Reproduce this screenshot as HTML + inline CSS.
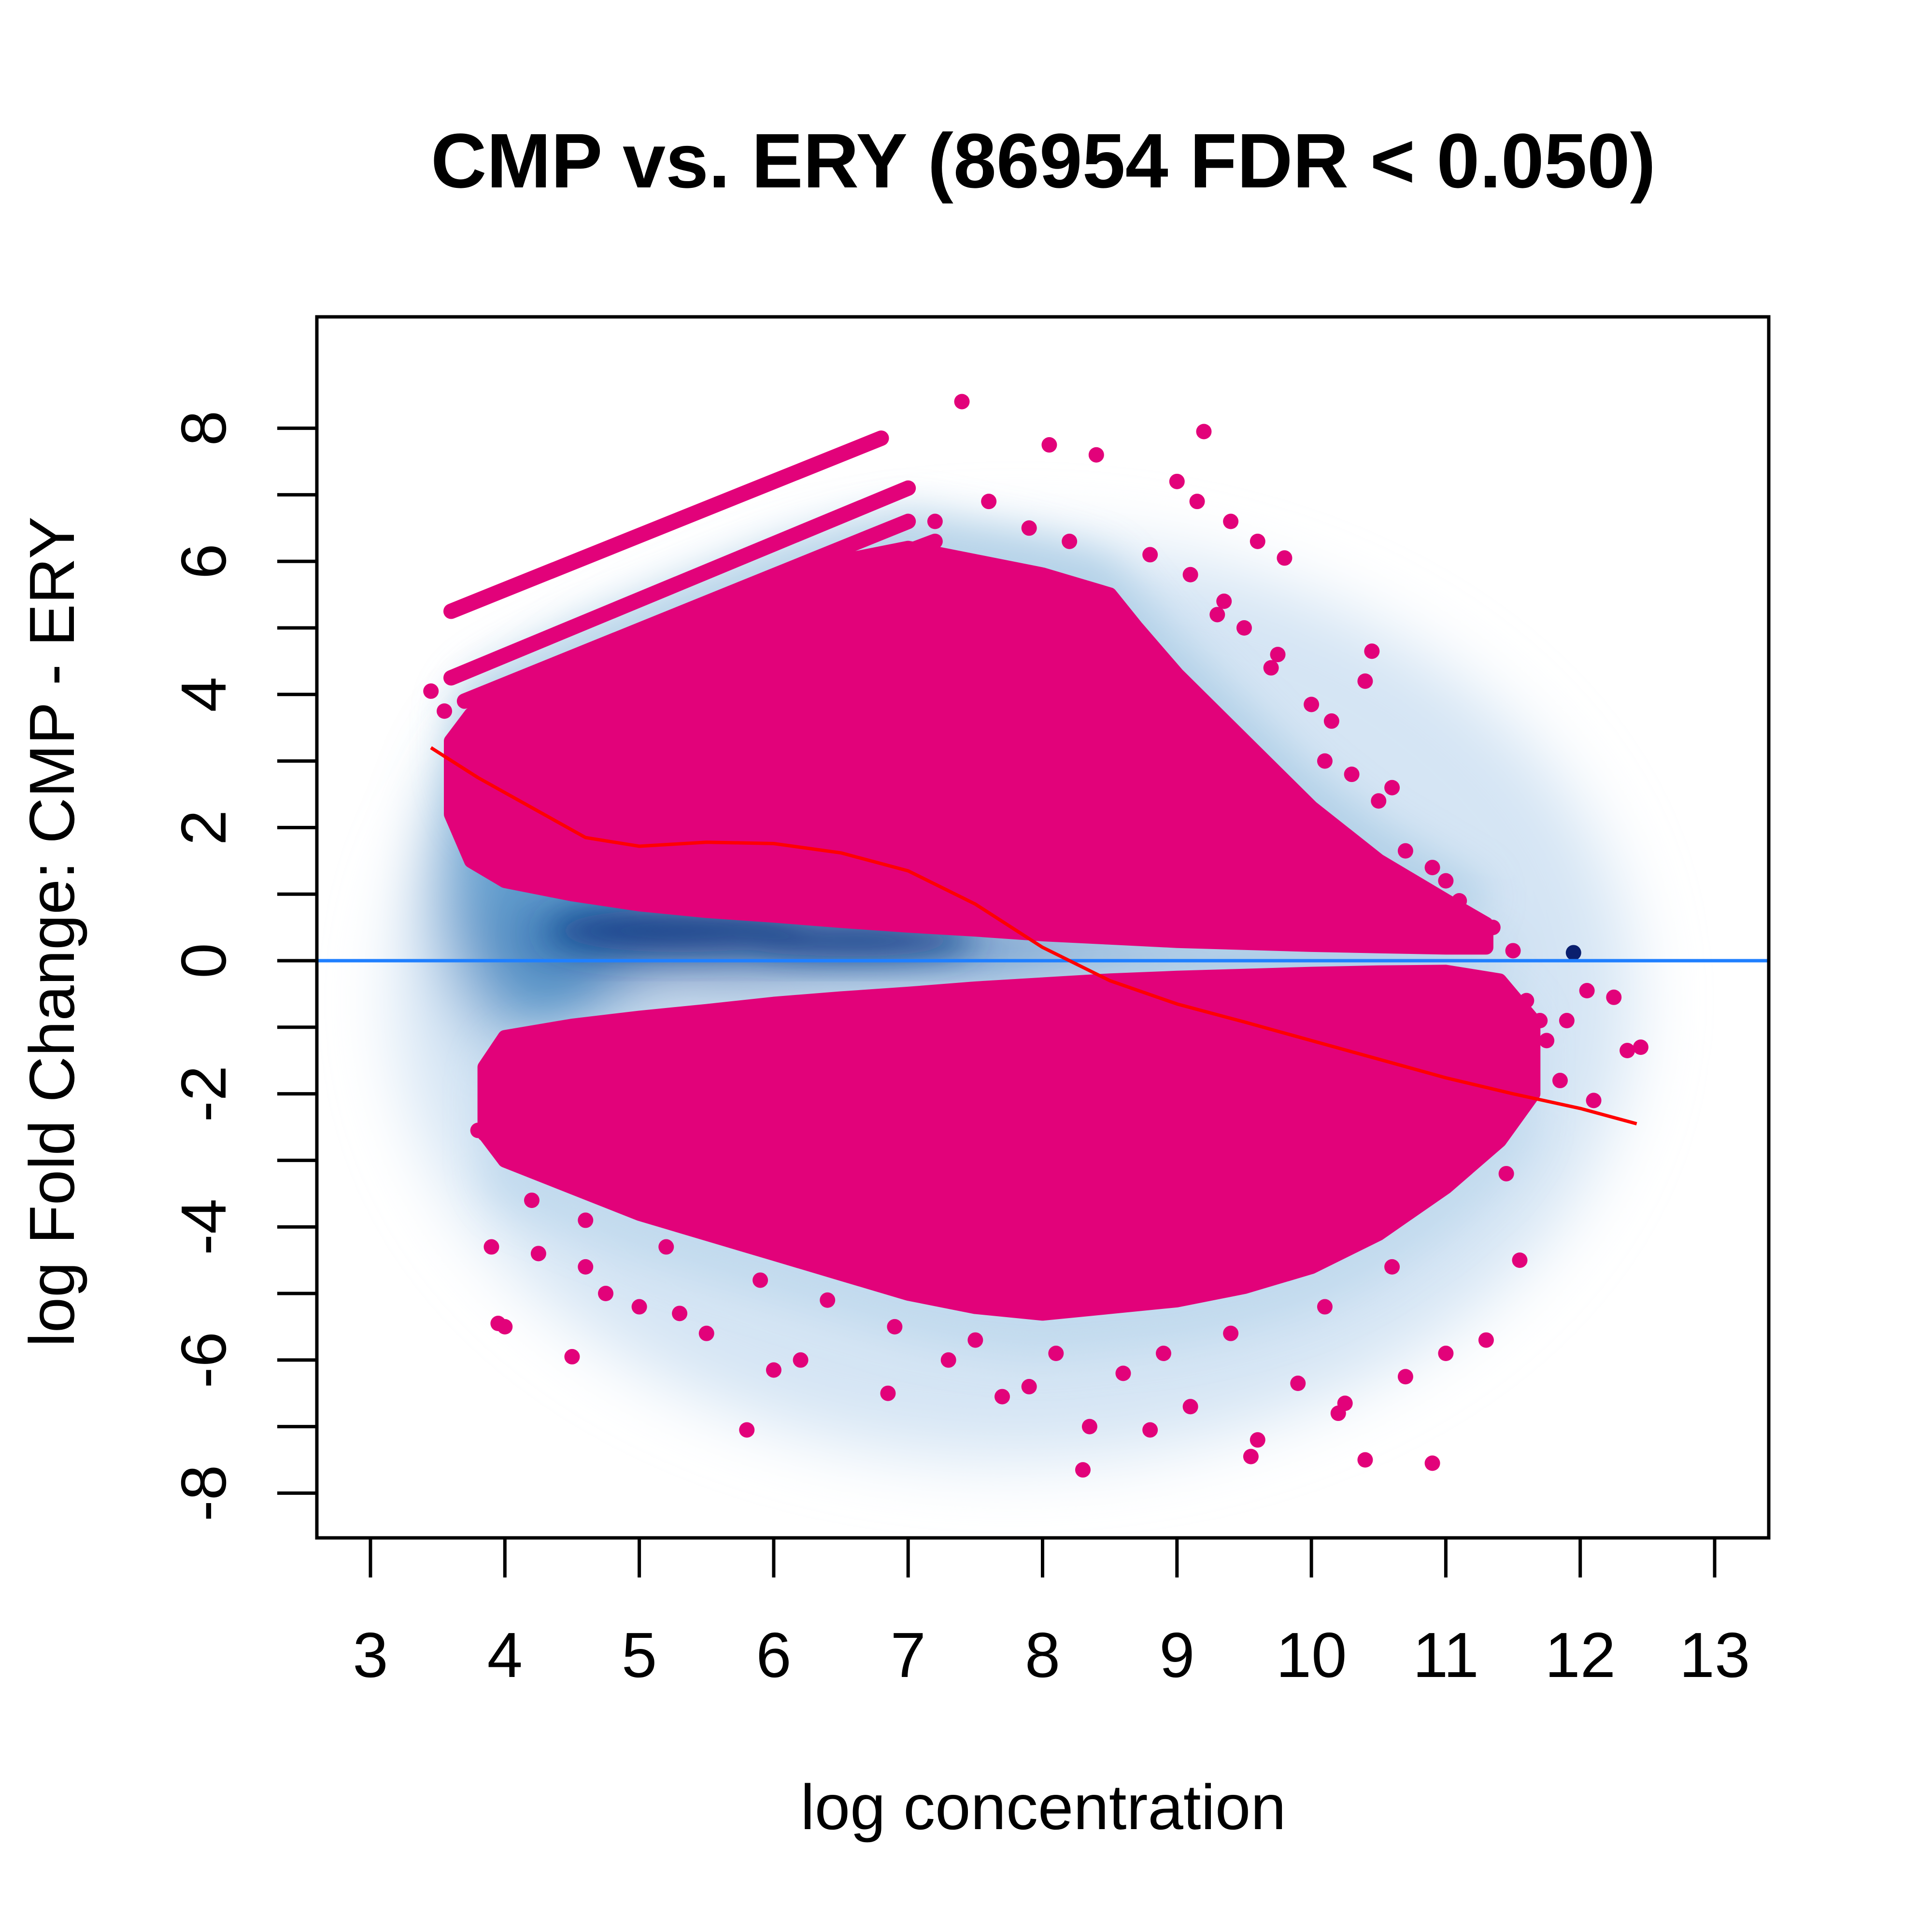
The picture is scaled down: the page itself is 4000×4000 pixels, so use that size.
<!DOCTYPE html>
<html><head><meta charset="utf-8"><style>
html,body{margin:0;padding:0;background:#fff;}
svg{display:block;}
text{font-family:"Liberation Sans",Arial,sans-serif;fill:#000;}
</style></head><body>
<svg id="chart" width="4000" height="4000" viewBox="0 0 4000 4000" xmlns="http://www.w3.org/2000/svg">
<defs>
<filter id="blur1" x="-20%" y="-20%" width="140%" height="140%"><feGaussianBlur stdDeviation="70"/></filter>
<filter id="blur2" x="-20%" y="-20%" width="140%" height="140%"><feGaussianBlur stdDeviation="40"/></filter>
<filter id="blur3" x="-20%" y="-50%" width="140%" height="200%"><feGaussianBlur stdDeviation="35"/></filter>
<clipPath id="plotclip"><rect x="656" y="656" width="3006" height="2528"/></clipPath>
</defs>
<rect x="0" y="0" width="4000" height="4000" fill="#fff"/>
<text x="2160" y="388" font-size="160" font-weight="bold" text-anchor="middle">CMP vs. ERY (86954 FDR &lt; 0.050)</text>
<text x="2160" y="3787" font-size="132" text-anchor="middle">log concentration</text>
<text transform="translate(153,1929) rotate(-90)" font-size="132" text-anchor="middle">log Fold Change: CMP - ERY</text>
<g id="plot" clip-path="url(#plotclip)"></g>
<g id="axes"></g>
<rect x="656" y="656" width="3006" height="2528" fill="none" stroke="#000" stroke-width="7"/>
</svg>
<script>
const xTicks=[3,4,5,6,7,8,9,10,11,12,13];
const yTicks=[-8,-7,-6,-5,-4,-3,-2,-1,0,1,2,3,4,5,6,7,8];
const yLabels=[-8,-6,-4,-2,0,2,4,6,8];
const upX=[3.6,3.75,4.0,4.5,5.0,5.5,6.0,6.5,7.0,7.5,8.0,8.5,8.7,9.0,9.5,10.0,10.5,11.0,11.3];
const upTop=[3.3,3.7,4.0,4.5,4.9,5.3,5.7,6.0,6.2,6.0,5.8,5.5,5.0,4.3,3.3,2.3,1.5,0.9,0.55];
const upBot=[2.2,1.5,1.2,1.0,0.85,0.75,0.68,0.6,0.53,0.47,0.4,0.35,0.33,0.3,0.27,0.24,0.22,0.2,0.2];
const loX=[3.85,4.0,4.5,5.0,5.5,6.0,6.5,7.0,7.5,8.0,8.5,9.0,9.5,10.0,10.5,11.0,11.4,11.65];
const loTop=[-1.6,-1.15,-0.98,-0.86,-0.76,-0.65,-0.57,-0.5,-0.42,-0.36,-0.3,-0.26,-0.23,-0.2,-0.18,-0.17,-0.3,-0.9];
const loBot=[-2.6,-3.0,-3.4,-3.8,-4.1,-4.4,-4.7,-5.0,-5.2,-5.3,-5.2,-5.1,-4.9,-4.6,-4.1,-3.4,-2.7,-2.0];
const streakX0=[3.6,3.6,3.7,3.8],streakY0=[5.25,4.25,3.9,3.7],streakX1=[6.8,7.0,7.0,7.2],streakY1=[7.85,7.1,6.6,6.3];
const ptX=[3.45,3.55,7.4,9.2,8.05,8.4,9.0,9.15,9.4,9.6,9.8,10.0,10.3,10.45,10.4,10.7,10.85,11.2,11.35,9.3,9.7,10.1,10.5,11.0,11.5,11.7,11.9,12.05,12.25,12.45,12.35,12.1,11.85,
 4.0,3.95,4.5,3.9,3.85,3.8,4.25,4.6,5.0,5.3,5.8,6.0,6.2,7.3,7.7,8.3,8.35,8.8,9.55,9.6,10.2,10.4,10.9,11.3,11.55,10.7,11.0,9.1,8.6,7.9,9.9,10.25,6.85,5.5,4.75,
 7.2,7.6,7.9,8.2,8.8,9.1,9.35,9.5,9.75,10.15,10.6,10.9,11.1,11.6,11.75,11.45,10.6,10.1,9.4,8.9,8.1,7.5,6.9,6.4,5.9,5.2,4.6,4.2];
const ptY=[4.05,3.75,8.4,7.95,7.75,7.6,7.2,6.9,6.6,6.3,6.05,3.85,2.8,4.65,4.2,1.65,0.8,0.6,0.5,5.2,4.4,3.0,2.4,1.2,0.15,-0.9,-0.9,-0.45,-0.55,-1.3,-1.35,-2.1,-1.8,
 -5.5,-5.45,-5.95,-4.3,-2.6,-2.55,-4.4,-4.6,-5.2,-5.3,-7.05,-6.15,-6.0,-6.0,-6.55,-7.65,-7.0,-7.05,-7.45,-7.2,-6.8,-7.5,-7.55,-5.7,-4.5,-6.25,-5.9,-6.7,-6.2,-6.4,-6.35,-6.65,-6.5,-5.6,-5.0,
 6.6,6.9,6.5,6.3,6.1,5.8,5.4,5.0,4.6,3.6,2.6,1.4,0.9,-0.6,-1.2,-3.2,-4.6,-5.2,-5.6,-5.9,-5.9,-5.7,-5.5,-5.1,-4.8,-4.3,-3.9,-3.6];
const fitX=[3.45,3.8,4.2,4.6,5.0,5.5,6.0,6.5,7.0,7.5,8.0,8.5,9.0,9.5,10.0,10.5,11.0,11.5,12.0,12.42];
const fitY=[3.2,2.75,2.3,1.85,1.72,1.78,1.76,1.62,1.35,0.85,0.2,-0.3,-0.65,-0.92,-1.2,-1.48,-1.76,-2.0,-2.22,-2.45];
const denX=[7.8,4.3,6.0,7.5,9.5];
const denY=[-0.6,1.2,0.3,0.1,0.0];
const denRX=[4.6,0.8,2.2,1.6,2.0];
const denRY=[6.9,2.6,0.6,0.45,0.35];
const denCol=['#d3e4f3','#4f93c8','#2a68ad','#3f85c2','#6aa6d4'];
const denOp=[0.95,0.85,0.9,0.8,0.8];
// dark core band (x, y, rx, ry)
const coreX=[5.3,6.6];
const coreY=[0.45,0.3];
const coreRX=[1.0,0.9];
const coreRY=[0.32,0.25];

const X0=767,XU=278.3,Y0=1989,YU=137.8;
const sx=v=>X0+(v-3)*XU, sy=v=>Y0-v*YU;
const NS='http://www.w3.org/2000/svg';
const plot=document.getElementById('plot'), axes=document.getElementById('axes');
function mk(tag,attrs,parent){const e=document.createElementNS(NS,tag);for(const k in attrs)e.setAttribute(k,attrs[k]);parent.appendChild(e);return e;}

const dg=mk('g',{filter:'url(#blur1)'},plot);


for(let i=0;i<denX.length;i++){
  const e=mk('ellipse',{cx:sx(denX[i]),cy:sy(denY[i]),rx:denRX[i]*XU,ry:denRY[i]*YU,fill:denCol[i],opacity:denOp[i]},dg);
  
  
}
const cg=mk('g',{filter:'url(#blur3)'},plot);


for(let i=0;i<coreX.length;i++){
  const e=mk('ellipse',{cx:sx(coreX[i]),cy:sy(coreY[i]),rx:coreRX[i]*XU,ry:coreRY[i]*YU,fill:'#0b3a84',opacity:0.95},cg);
  
  
}
function envPath(xs,top,bot){let d='';for(let i=0;i<xs.length;i++)d+=(i?'L':'M')+sx(xs[i]).toFixed(1)+','+sy(top[i]).toFixed(1);for(let i=xs.length-1;i>=0;i--)d+='L'+sx(xs[i]).toFixed(1)+','+sy(bot[i]).toFixed(1);return d+'Z';}
const hg=mk('g',{filter:'url(#blur2)',opacity:0.75},plot);


mk('path',{d:envPath(upX,upTop.map(v=>v+0.6),upBot.map(v=>v+0.5)),fill:'#a8cbe4'},hg);
mk('path',{d:envPath(loX,loTop,loBot.map(v=>v-0.7)),fill:'#bcd7ec'},hg);

const PINK='#e2027a';
const cu=mk('path',{d:envPath(upX,upTop,upBot),fill:PINK,stroke:PINK,'stroke-width':30,'stroke-linejoin':'round'},plot);


const cl=mk('path',{d:envPath(loX,loTop,loBot),fill:PINK,stroke:PINK,'stroke-width':30,'stroke-linejoin':'round'},plot);


for(let i=0;i<streakX0.length;i++){
  const s=mk('line',{x1:sx(streakX0[i]),y1:sy(streakY0[i]),x2:sx(streakX1[i]),y2:sy(streakY1[i]),stroke:PINK,'stroke-width':32,'stroke-linecap':'round'},plot);
  
  
}
for(let i=0;i<ptX.length;i++){
  const c=mk('circle',{cx:sx(ptX[i]),cy:sy(ptY[i]),r:16,fill:PINK},plot);
  
  
}
const nav=mk('circle',{cx:sx(11.95),cy:sy(0.12),r:16,fill:'#0a1f6e'},plot);



const hl=mk('line',{x1:656,x2:3662,y1:sy(0),y2:sy(0),stroke:'#1f7fff','stroke-width':7},plot);


let fd='';for(let i=0;i<fitX.length;i++)fd+=(i?'L':'M')+sx(fitX[i]).toFixed(1)+','+sy(fitY[i]).toFixed(1);
const fit=mk('path',{d:fd,fill:'none',stroke:'#ff0000','stroke-width':7,'stroke-linejoin':'round'},plot);



for(const t of xTicks){
  const l=mk('line',{x1:sx(t),x2:sx(t),y1:3184,y2:3266,stroke:'#000','stroke-width':7},axes);
  
  
  const tx=mk('text',{x:sx(t),y:3472,'font-size':132,'text-anchor':'middle'},axes);
  tx.textContent=t;
  
  
}
const xl=mk('line',{x1:sx(3),x2:sx(13),y1:3184,y2:3184,stroke:'#000','stroke-width':7},axes);


for(const t of yTicks){
  const l=mk('line',{x1:574,x2:656,y1:sy(t),y2:sy(t),stroke:'#000','stroke-width':7},axes);
  
  
}
for(const t of yLabels){
  const tx=mk('text',{transform:`translate(467,${sy(t)}) rotate(-90)`,'font-size':132,'text-anchor':'middle'},axes);
  tx.textContent=t;
  
  
}
</script>
</body></html>
